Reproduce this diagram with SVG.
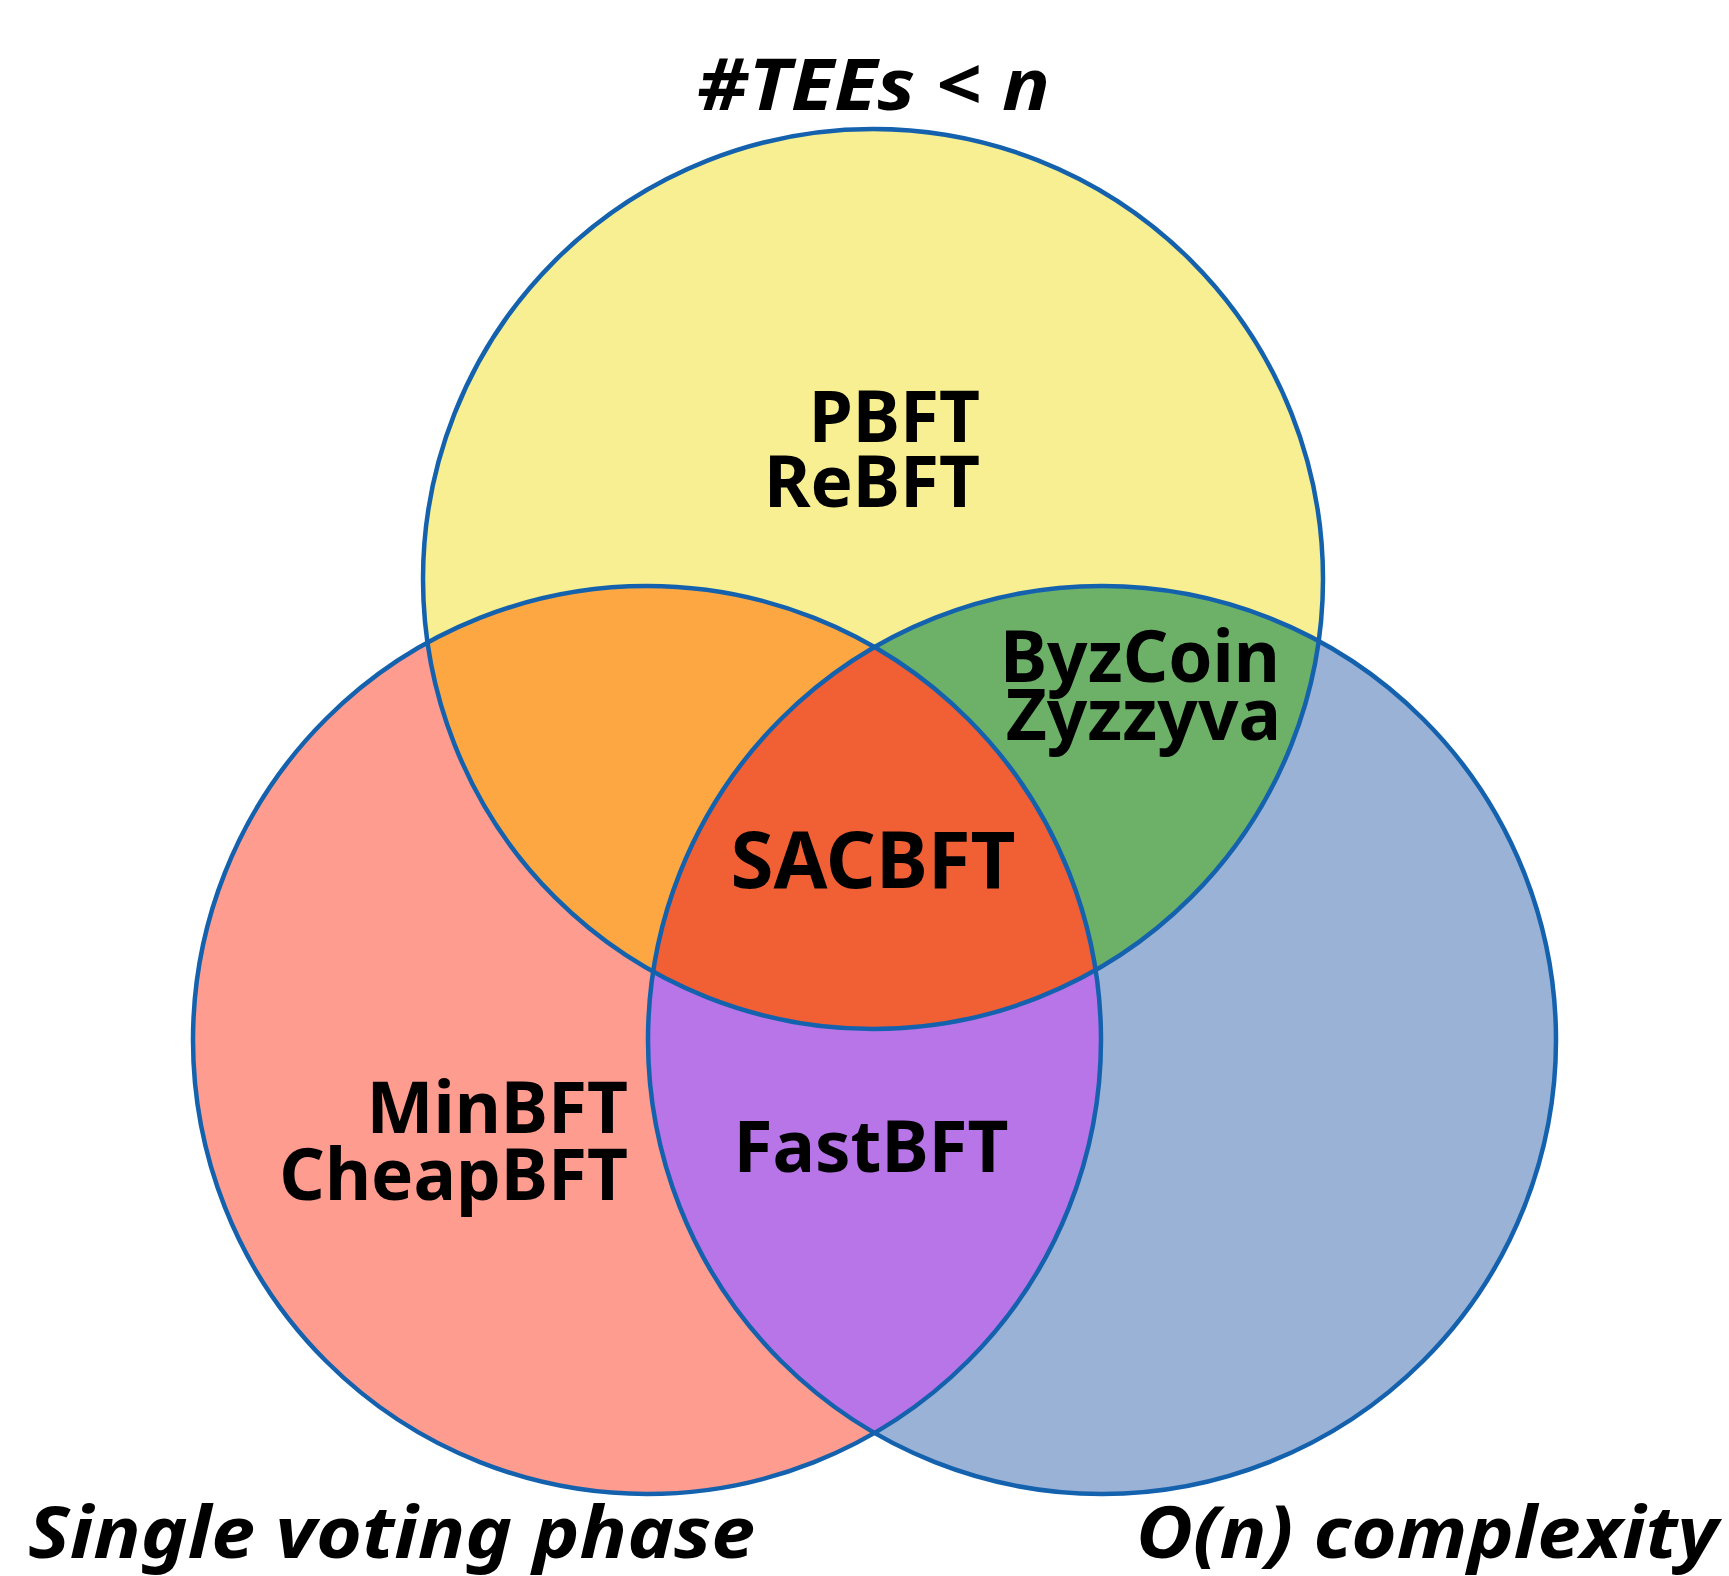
<svg xmlns="http://www.w3.org/2000/svg" width="1729" height="1576" viewBox="0 0 1729 1576">
<style>
.lbl{font-family:"Noto Sans","Open Sans","DejaVu Sans",sans-serif;font-weight:bold;fill:#000}
.cap{font-family:"Noto Sans","Open Sans","DejaVu Sans",sans-serif;font-weight:bold;font-style:italic;fill:#000}
.ring{fill:none;stroke:#1462AE;stroke-width:4.5}
</style>
<defs>
<clipPath id="cT"><circle cx="873" cy="579" r="450"/></clipPath>
<clipPath id="cL"><circle cx="647" cy="1040" r="454"/></clipPath>
</defs>
<rect width="1729" height="1576" fill="#fff"/>
<g id="set-tees">
<circle cx="873" cy="579" r="450" fill="#F7EF91"/>
</g>
<g id="set-single-voting">
<circle cx="647" cy="1040" r="454" fill="#FE9C90"/>
</g>
<g id="set-on-complexity">
<circle cx="1102" cy="1040" r="454" fill="#9BB2D7"/>
</g>
<g id="overlap-tees-voting" clip-path="url(#cT)">
<circle cx="647" cy="1040" r="454" fill="#FCA742"/>
</g>
<g id="overlap-tees-complexity" clip-path="url(#cT)">
<circle cx="1102" cy="1040" r="454" fill="#6DB168"/>
</g>
<g id="overlap-voting-complexity" clip-path="url(#cL)">
<circle cx="1102" cy="1040" r="454" fill="#B875E8"/>
</g>
<g id="overlap-all" clip-path="url(#cT)">
<g clip-path="url(#cL)">
<circle cx="1102" cy="1040" r="454" fill="#F15F35"/>
</g>
</g>
<g id="outlines">
<circle class="ring" cx="873" cy="579" r="450"/>
<circle class="ring" cx="647" cy="1040" r="454"/>
<circle class="ring" cx="1102" cy="1040" r="454"/>
</g>
<g id="labels">
<text class="lbl" x="980" y="442" font-size="71" text-anchor="end">PBFT</text>
<text class="lbl" x="980" y="507" font-size="71" text-anchor="end">ReBFT</text>
<text class="lbl" x="1280" y="682" font-size="71" text-anchor="end">ByzCoin</text>
<text class="lbl" x="1281" y="740" font-size="71" text-anchor="end">Zyzzyva</text>
<text class="lbl" x="873" y="888" font-size="78" text-anchor="middle">SACBFT</text>
<text class="lbl" x="628" y="1133" font-size="71" text-anchor="end">MinBFT</text>
<text class="lbl" x="628" y="1200" font-size="71" text-anchor="end">CheapBFT</text>
<text class="lbl" x="871" y="1172" font-size="71" text-anchor="middle">FastBFT</text>
</g>
<g id="captions">
<text class="cap" x="697" y="110" font-size="72" textLength="353" lengthAdjust="spacingAndGlyphs">#TEEs &lt; n</text>
<text class="cap" x="28" y="1558" font-size="72" textLength="727" lengthAdjust="spacingAndGlyphs">Single voting phase</text>
<text class="cap" x="1136" y="1558" font-size="72" textLength="582" lengthAdjust="spacingAndGlyphs">O(n) complexity</text>
</g>
</svg>
